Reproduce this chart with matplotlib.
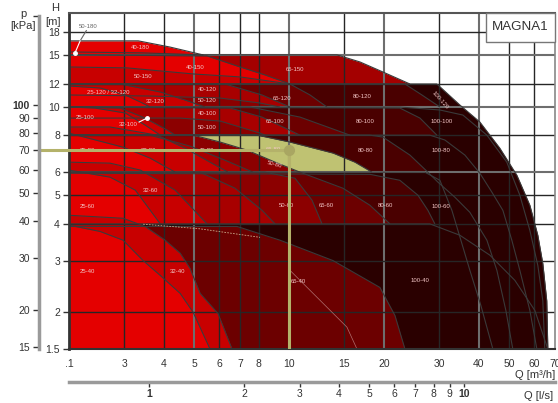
import numpy as np
import matplotlib
matplotlib.use('Agg')
import matplotlib.pyplot as plt
from matplotlib.patches import Rectangle
from matplotlib.ticker import NullLocator, FixedLocator

plt.rcParams['font.family'] = ['Liberation Sans', 'DejaVu Sans']

# ---------------- axis ticks ----------------
q_ticks = [2, 3, 4, 5, 6, 7, 8, 10, 15, 20, 30, 40, 50, 60, 70]
q_tick_labels = ['.1', '3', '4', '5', '6', '7', '8', '10', '15', '20', '30', '40', '50', '60', '70']
h_ticks = [1.5, 2, 3, 4, 5, 6, 8, 10, 12, 15, 18]
h_tick_labels = ['1.5', '2', '3', '4', '5', '6', '8', '10', '12', '15', '18']
p_ticks = [15, 20, 30, 40, 50, 60, 70, 80, 90, 100]
p_tick_labels = ['15', '20', '30', '40', '50', '60', '70', '80', '90', '100']
ls_ticks = [1, 2, 3, 4, 5, 6, 7, 8, 9, 10]
ls_tick_labels = ['1', '2', '3', '4', '5', '6', '7', '8', '9', '10']
grid_q_dark = [3, 4, 6, 7, 8, 15, 30, 50, 60]
grid_q_gray = [5, 10, 20, 40]
grid_h_dark = [2, 3, 4, 5, 8, 12, 18]
grid_h_gray = [6, 10, 15]

# ---------------- pump max curves (Q m3/h, H m) ----------------
# 180 series
q_40_180 = [2.0, 3.32, 4.19, 5.33]
h_40_180 = [16.8, 16.8, 16.0, 15.05]
q_50_180 = [2.0, 3.4, 5.33]
h_50_180 = [15.4, 15.29, 15.05]
# 150 series
q_65_150 = [2.0, 14.2, 16.8, 19.88, 24.22]
h_65_150 = [15.05, 15.05, 14.24, 13.16, 11.98]
q_40_150 = [2.0, 5.49, 6.99, 8.39, 10.07]
h_40_150 = [15.05, 14.93, 13.69, 12.86, 11.98]
q_50_150 = [2.0, 3.06, 4.96, 6.99, 10.07]
h_50_150 = [13.69, 13.59, 12.96, 12.66, 11.98]
# 120 series
q_100_120 = [2.0, 29.5, 34.9, 40.4, 46.76, 52.95, 58.24, 61.73, 64.03, 65.9, 66.42]
h_100_120 = [11.98, 11.98, 10.16, 8.89, 7.24, 5.86, 4.63, 3.66, 2.93, 2.19, 1.5]
q_80_120 = [2.0, 23.35, 26.44, 30.16]
h_80_120 = [11.98, 11.98, 10.99, 10.0]
q_65_120 = [2.0, 10.07, 11.66, 13.2]
h_65_120 = [11.98, 11.98, 10.99, 10.0]
q_40_120 = [2.0, 6.26, 8.21, 10.07]
h_40_120 = [11.98, 11.98, 10.99, 10.0]
q_50_120 = [2.0, 3.62, 6.04, 8.09, 9.36]
h_50_120 = [10.99, 10.9, 10.73, 10.32, 10.0]
q_32_120 = [2.0, 2.91, 3.9, 4.68, 5.41]
h_32_120 = [11.98, 11.98, 11.25, 10.56, 10.0]
q_25_120 = [2.0, 2.51, 3.02, 3.37, 3.62]
h_25_120 = [11.79, 11.61, 10.99, 10.4, 10.0]
# 100 series
q_100_100 = [2.0, 22.5, 30.16, 35.68, 42.53, 49.2, 54.12, 58.24, 61.73, 64.03, 64.97]
h_100_100 = [10.0, 10.0, 9.77, 9.39, 8.02, 6.49, 5.01, 3.80, 2.89, 2.19, 1.5]
q_80_100 = [2.0, 22.5, 26.06, 29.5]
h_80_100 = [10.0, 9.92, 9.17, 8.02]
q_65_100 = [2.0, 7.52, 10.84, 15.62]
h_65_100 = [10.0, 10.0, 9.24, 8.02]
q_40_100 = [2.0, 6.5, 8.21, 10.84]
h_40_100 = [10.0, 9.92, 9.24, 8.02]
q_50_100 = [2.0, 4.51, 6.04, 8.09, 8.39]
h_50_100 = [9.17, 9.17, 8.96, 8.15, 8.02]
q_32_100 = [2.0, 2.91, 3.49, 4.10, 4.35]
h_32_100 = [10.0, 9.92, 9.17, 8.35, 8.02]
q_25_100 = [2.0, 2.42, 3.02, 3.49, 3.9]
h_25_100 = [10.0, 9.92, 9.54, 8.68, 8.02]
# 80 series
q_100_80 = [2.0, 28.03, 31.28, 36.21, 40.4, 44.11, 47.8, 51.04, 54.12, 58.24, 61.3]
h_100_80 = [8.02, 8.02, 7.72, 6.86, 5.95, 5.13, 4.45, 3.52, 2.78, 2.03, 1.5]
q_80_80 = [2.0, 18.07, 19.88, 24.22, 27.62, 29.72, 33.65, 37.55, 42.53, 45.75, 48.86, 51.4]
h_80_80 = [8.02, 8.02, 7.9, 6.86, 6.0, 5.55, 4.93, 4.38, 3.52, 2.78, 2.03, 1.5]
q_65_80 = [2.0, 7.8, 10.07, 13.8, 16.2, 18.35]
h_65_80 = [8.05, 8.05, 7.6, 6.97, 6.49, 6.0]
q_50_80 = [2.0, 4.96, 6.04, 7.36, 9.03, 10.84]
h_50_80 = [8.02, 8.02, 7.6, 7.13, 6.49, 6.0]
q_40_80 = [2.0, 3.62, 4.85, 6.26, 7.69]
h_40_80 = [8.02, 8.02, 7.36, 6.59, 6.0]
q_32_80 = [2.0, 2.7, 3.81, 4.68, 5.61, 6.4]
h_32_80 = [8.55, 8.55, 8.02, 7.24, 6.49, 6.0]
q_25_80 = [2.0, 2.97, 3.62, 4.35]
h_25_80 = [8.15, 7.3, 6.7, 6.0]
# 60 series
q_100_60 = [2.0, 27.02, 30.16, 32.92, 35.16, 37.55, 40.7, 44.43]
h_100_60 = [6.0, 6.0, 5.63, 4.45, 3.52, 2.78, 2.11, 1.5]
q_80_60 = [2.0, 18.07, 22.5, 25.68, 27.62, 29.07]
h_80_60 = [5.95, 5.9, 5.63, 5.01, 4.45, 4.0]
q_65_60 = [2.0, 10.84, 14.84, 18.07, 20.93]
h_65_60 = [6.0, 6.0, 5.29, 4.63, 4.0]
q_50_60 = [2.0, 8.39, 10.45, 11.83, 12.73]
h_50_60 = [6.0, 6.0, 5.72, 4.82, 4.0]
q_40_60 = [2.0, 5.22, 6.74, 8.21, 9.03]
h_40_60 = [6.0, 6.0, 5.29, 4.45, 4.0]
q_32_60 = [2.0, 2.7, 3.37, 4.35, 5.49]
h_32_60 = [6.49, 6.44, 6.1, 5.21, 4.0]
q_25_60 = [2.0, 2.7, 3.25, 3.9]
h_25_60 = [6.1, 5.77, 5.21, 4.0]
# 40 series
q_100_40 = [2.0, 28.03, 34.9, 43.47, 52.18, 60.4, 66.42]
h_100_40 = [4.0, 4.0, 3.66, 3.13, 2.57, 2.03, 1.5]
q_65_40 = [2.0, 6.84, 9.36, 13.8, 19.45, 21.71, 23.35]
h_65_40 = [3.92, 3.92, 3.52, 3.0, 2.43, 1.95, 1.5]
q_32_40 = [2.0, 2.97, 3.49, 4.04, 4.51, 4.85, 5.22, 5.95, 6.59]
h_32_40 = [4.28, 4.18, 3.92, 3.52, 3.18, 2.82, 2.32, 1.98, 1.5]
q_25_40 = [2.0, 2.51, 2.97, 3.44, 3.9, 4.51, 4.96, 5.61]
h_25_40 = [3.96, 3.77, 3.52, 3.0, 2.67, 2.32, 2.0, 1.5]
# faint secondary curves
q_faint_a = [3.44, 5.2, 8.09]
h_faint_a = [3.99, 3.85, 3.6]
q_faint_b = [10.07, 15.28, 16.44]
h_faint_b = [2.78, 1.78, 1.5]

# band floors (H, m)
floor_180, floor_150, floor_120, floor_100, floor_80, floor_60, floor_40 = 15.05, 11.98, 10.0, 8.02, 6.0, 4.0, 1.5

# region labels (name, Q, H)
label_names = ['40-180', '40-150', '50-150', '65-150', '25-120 / 32-120', '32-120', '40-120', '50-120',
               '65-120', '80-120', '25-100', '40-100', '50-100', '65-100', '80-100',
               '100-100', '25-80', '32-80', '40-80', '65-80', '80-80', '100-80', '32-60', '25-60',
               '50-60', '65-60', '80-60', '100-60', '25-40', '32-40', '65-40', '100-40']
label_q = [3.37, 5.03, 3.44, 10.45, 2.66, 3.76, 5.49, 5.49, 9.5, 17.05, 2.25, 5.49, 5.49, 9.03, 17.4,
           30.6, 2.29, 3.57, 5.49, 8.9, 17.55, 30.4, 3.62, 2.29, 9.85, 13.1, 20.3, 30.4, 2.29, 4.44, 10.68, 26.06]
label_h = [15.9, 13.59, 12.66, 13.38, 11.25, 10.48, 11.43, 10.56, 10.73, 10.82, 9.24, 9.54, 8.55, 8.96, 8.96,
           8.96, 7.13, 7.13, 7.13, 7.18, 7.13, 7.13, 5.21, 4.59, 4.63, 4.63, 4.63, 4.59, 2.76, 2.76, 2.55, 2.57]

# selected duty point
sel_q = 10.0
sel_p = 70.0  # kPa
rho_g = 9.81  # kPa per m

# ---------------- figure ----------------
W, Hpx = 558, 403
PT = 72.0 / 100.0  # points per pixel at 100 dpi
fig = plt.figure(figsize=(W / 100, Hpx / 100), dpi=100)
ax = fig.add_axes([69 / W, 54 / Hpx, 486 / W, 336 / Hpx])
ax.set_xscale('log')
ax.set_yscale('log')
ax.set_xlim(2, 70)
ax.set_ylim(1.5, 20.9)

C25, C32, C40, C50, C65, C80, C100 = '#e40000', '#c80000', '#a80000', '#8c0000', '#6c0000', '#4a0000', '#2a0000'
KHAKI = '#bfc272'

pumps = [
    (q_40_180, h_40_180, floor_180, C25),
    (q_65_150, h_65_150, floor_150, '#a40000'),
    (q_40_150, h_40_150, floor_150, C25),
    (q_50_150, h_50_150, floor_150, C32),
    (q_100_120, h_100_120, floor_40, C100),
    (q_80_120, h_80_120, floor_120, C80),
    (q_65_120, h_65_120, floor_120, C65),
    (q_40_120, h_40_120, floor_120, C40),
    (q_50_120, h_50_120, floor_120, C50),
    (q_32_120, h_32_120, floor_120, C32),
    (q_25_120, h_25_120, floor_120, C25),
    (q_100_100, h_100_100, floor_40, C100),
    (q_80_100, h_80_100, floor_100, C80),
    (q_65_100, h_65_100, floor_100, C65),
    (q_40_100, h_40_100, floor_100, C40),
    (q_50_100, h_50_100, floor_100, C50),
    (q_32_100, h_32_100, floor_100, C32),
    (q_25_100, h_25_100, floor_100, C25),
    (q_100_80, h_100_80, floor_40, C100),
    (q_80_80, h_80_80, floor_80, C80),
    (q_65_80, h_65_80, floor_80, KHAKI),
    (q_50_80, h_50_80, floor_80, C50),
    (q_40_80, h_40_80, floor_80, C40),
    (q_32_80, h_32_80, floor_80, C32),
    (q_25_80, h_25_80, floor_80, C25),
    (q_100_60, h_100_60, floor_40, C100),
    (q_80_60, h_80_60, floor_60, C80),
    (q_65_60, h_65_60, floor_60, C65),
    (q_50_60, h_50_60, floor_60, C50),
    (q_40_60, h_40_60, floor_60, C40),
    (q_32_60, h_32_60, floor_60, C32),
    (q_25_60, h_25_60, floor_60, C25),
    (q_100_40, h_100_40, floor_40, C100),
    (q_65_40, h_65_40, floor_40, C65),
    (q_32_40, h_32_40, floor_40, C32),
    (q_25_40, h_25_40, floor_40, C25),
]

for q, h, fl, col in pumps:
    q = np.asarray(q, float)
    h = np.asarray(h, float)
    ax.fill_between(q, np.maximum(h, fl), fl, color=col, lw=0, zorder=1)

# grid over fills
for q in grid_q_dark:
    ax.axvline(q, color='#262626', lw=1.0, zorder=3)
for q in grid_q_gray:
    ax.axvline(q, color='#6e6e6e', lw=1.5, zorder=3)
for h in grid_h_dark:
    ax.axhline(h, color='#262626', lw=1.0, zorder=3)
for h in grid_h_gray:
    ax.axhline(h, color='#6e6e6e', lw=1.5, zorder=3)

# curve lines
for q, h, fl, col in pumps:
    ax.plot(q, h, color='#3a3a3a', lw=0.8, zorder=4, solid_capstyle='butt')
ax.plot(q_50_180, h_50_180, color='#3a3a3a', lw=0.8, zorder=4)
ax.plot(q_faint_a, h_faint_a, color='#c9a98a', lw=0.6, ls=(0, (2, 1.5)), zorder=4)
ax.plot(q_faint_b, h_faint_b, color='#b07070', lw=0.5, zorder=4)

# labels
for s, q, h in zip(label_names, label_q, label_h):
    ax.text(q, h, s, fontsize=4.3, color='#f3c6c6', ha='center', va='center', zorder=6)
ax.text(30.16, 10.56, '100-120', fontsize=4.3, color='#f3c6c6', ha='center', va='center',
        rotation=-48, zorder=6)
ax.text(9.03, 6.39, '50-80', fontsize=4.3, color='#f3c6c6', ha='center', va='center',
        rotation=-15, zorder=6)

# pointer labels
ax.text(2.30, 18.75, '50-180', fontsize=4.3, color='#666666', ha='center', va='center', zorder=6)
ax.plot([2.27, 2.17], [18.2, 16.8], color='#666666', lw=0.8, zorder=6)
ax.plot([2.17, 2.09], [16.8, 15.29], color='white', lw=0.8, zorder=6)
ax.plot([2.09], [15.29], 'o', color='white', ms=2.5, zorder=6)
ax.text(3.08, 8.75, '32-100', fontsize=4.3, color='#f3c6c6', ha='center', va='center', zorder=6)
ax.plot([3.34, 3.54], [8.89, 9.17], color='white', lw=0.8, zorder=6)
ax.plot([3.54], [9.17], 'o', color='white', ms=2.5, zorder=6)

# duty point lines
sel_h = sel_p / rho_g
ax.plot([1.61, sel_q], [sel_h, sel_h], color='#b4b26a', lw=2.2, zorder=7, clip_on=False)
ax.plot([sel_q, sel_q], [1.5, sel_h], color='#b4b26a', lw=2.2, zorder=7)
ax.plot([sel_q], [sel_h], 'o', color='#a9a662', ms=7, zorder=8)

# MAGNA1 box
ax.add_patch(Rectangle((0.858, 0.9137), 0.142, 0.0863, transform=ax.transAxes, facecolor='white',
                       edgecolor='#777777', lw=1.0, zorder=9, clip_on=False))
ax.text(0.929, 0.957, 'MAGNA1', transform=ax.transAxes, fontsize=9.6, color='#333333',
        ha='center', va='center', zorder=10)

# main axes ticks
ax.xaxis.set_major_locator(FixedLocator(q_ticks))
ax.set_xticklabels(q_tick_labels)
ax.xaxis.set_minor_locator(NullLocator())
ax.yaxis.set_major_locator(FixedLocator(h_ticks))
ax.set_yticklabels(h_tick_labels)
ax.yaxis.set_minor_locator(NullLocator())
ax.tick_params(axis='x', length=0, pad=7, labelsize=7.5, labelcolor='#333333')
ax.tick_params(axis='y', length=4.5, width=1.0, pad=2, labelsize=7.5, labelcolor='#333333', color='#333333')
ax.spines['left'].set_linewidth(2.0)
ax.spines['left'].set_color('#333333')
ax.spines['bottom'].set_linewidth(1.5)
ax.spines['bottom'].set_color('#333333')
ax.spines['top'].set_linewidth(1.5)
ax.spines['top'].set_color('#555555')
ax.spines['right'].set_linewidth(1.2)
ax.spines['right'].set_color('#888888')
for sp in ax.spines.values():
    sp.set_zorder(5)

# pressure axis (30 px left of the main axis)
ax_p = ax.twinx()
ax_p.set_yscale('log')
ax_p.set_ylim(1.5 * rho_g, 20.9 * rho_g)
for k in ['right', 'top', 'bottom']:
    ax_p.spines[k].set_visible(False)
ax_p.spines['left'].set_visible(True)
ax_p.spines['left'].set_position(('outward', 30 * PT))
ax_p.spines['left'].set_color('#9a9a9a')
ax_p.spines['left'].set_linewidth(2.5)
ax_p.spines['left'].set_bounds(1.5 * rho_g, 200)
ax_p.yaxis.set_ticks_position('left')
ax_p.yaxis.set_major_locator(FixedLocator(p_ticks + [200]))
ax_p.set_yticklabels(p_tick_labels + [''])
ax_p.yaxis.set_minor_locator(NullLocator())
ax_p.tick_params(axis='y', length=4.5, width=1.0, pad=2, labelsize=7.5, labelcolor='#333333', color='#333333')
for t in ax_p.get_yticklabels():
    if t.get_text() == '100':
        t.set_fontweight('bold')

# l/s axis (33 px below the main axis)
ax_l = ax.twiny()
ax_l.set_xscale('log')
ax_l.set_xlim(2 / 3.6, 70 / 3.6)
for k in ['right', 'top', 'left']:
    ax_l.spines[k].set_visible(False)
ax_l.spines['bottom'].set_visible(True)
ax_l.spines['bottom'].set_position(('outward', 33 * PT))
ax_l.spines['bottom'].set_color('#9a9a9a')
ax_l.spines['bottom'].set_linewidth(2.5)
ax_l.xaxis.set_ticks_position('bottom')
ax_l.xaxis.set_label_position('bottom')
ax_l.xaxis.set_major_locator(FixedLocator(ls_ticks))
ax_l.set_xticklabels(ls_tick_labels)
ax_l.xaxis.set_minor_locator(NullLocator())
ax_l.tick_params(axis='x', length=3.5, width=1.0, pad=1.5, labelsize=7.5, labelcolor='#333333', color='#333333')
for t in ax_l.get_xticklabels():
    if t.get_text() in ('1', '10'):
        t.set_fontweight('bold')

# axis titles
fig.text(55 / W, 1 - 8 / Hpx, 'H', fontsize=8, color='#333333', ha='center', va='center')
fig.text(53 / W, 1 - 22 / Hpx, '[m]', fontsize=8, color='#333333', ha='center', va='center')
fig.text(23 / W, 1 - 14 / Hpx, 'p', fontsize=8, color='#333333', ha='center', va='center')
fig.text(23 / W, 1 - 26 / Hpx, '[kPa]', fontsize=8, color='#333333', ha='center', va='center')
fig.text(555 / W, 1 - 375 / Hpx, 'Q [m³/h]', fontsize=8, color='#333333', ha='right', va='center')
fig.text(553 / W, 1 - 396 / Hpx, 'Q [l/s]', fontsize=8, color='#333333', ha='right', va='center')

fig.savefig('out.png', dpi=100)
